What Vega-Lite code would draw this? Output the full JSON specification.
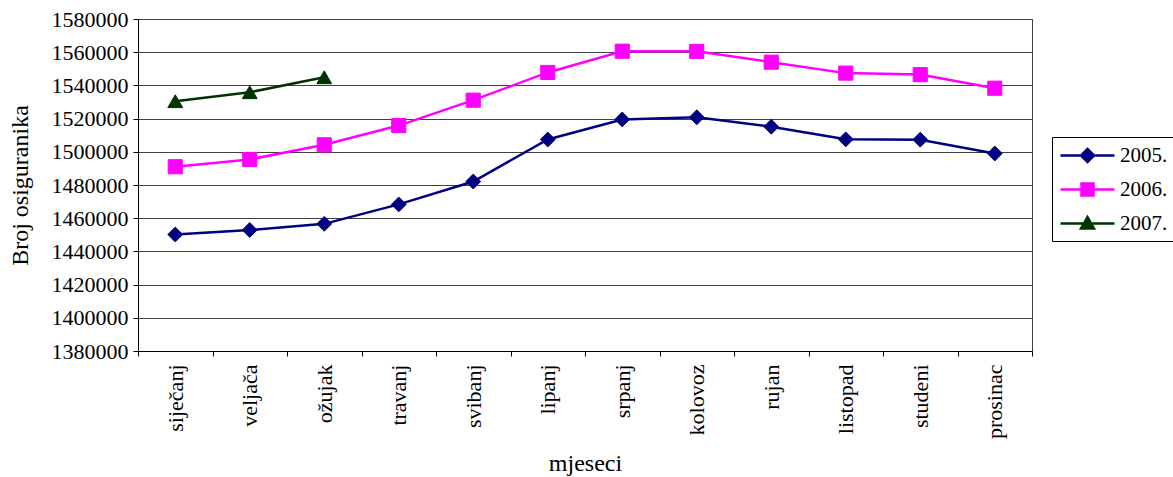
{
  "$schema": "https://vega.github.io/schema/vega-lite/v6.json",
  "width": 894,
  "height": 332,
  "autosize": "none",
  "padding": {"left": 138, "top": 19, "right": 141, "bottom": 126},
  "background": "white",
  "config": {
    "font": "Liberation Serif, Times New Roman, DejaVu Serif, serif",
    "view": {"stroke": "#404040", "strokeWidth": 1},
    "style": {
      "guide-label": {"font": "Liberation Serif, Times New Roman, DejaVu Serif, serif"},
      "guide-title": {"font": "Liberation Serif, Times New Roman, DejaVu Serif, serif"}
    },
    "axis": {
      "labelFont": "Liberation Serif, Times New Roman, DejaVu Serif, serif",
      "titleFont": "Liberation Serif, Times New Roman, DejaVu Serif, serif",
      "labelFontSize": 22,
      "titleFontSize": 24,
      "titleFontWeight": "normal",
      "labelColor": "black",
      "titleColor": "black",
      "domainColor": "black",
      "tickColor": "black",
      "tickSize": 5,
      "domainWidth": 1,
      "tickWidth": 1
    },
    "legend": {
      "labelFont": "Liberation Serif, Times New Roman, DejaVu Serif, serif"
    }
  },
  "data": {
    "values": [
      {"mjesec": "siječanj", "godina": "2005.", "broj": 1450200},
      {"mjesec": "veljača", "godina": "2005.", "broj": 1452900},
      {"mjesec": "ožujak", "godina": "2005.", "broj": 1456600},
      {"mjesec": "travanj", "godina": "2005.", "broj": 1468300},
      {"mjesec": "svibanj", "godina": "2005.", "broj": 1482100},
      {"mjesec": "lipanj", "godina": "2005.", "broj": 1507400},
      {"mjesec": "srpanj", "godina": "2005.", "broj": 1519500},
      {"mjesec": "kolovoz", "godina": "2005.", "broj": 1520800},
      {"mjesec": "rujan", "godina": "2005.", "broj": 1515100},
      {"mjesec": "listopad", "godina": "2005.", "broj": 1507500},
      {"mjesec": "studeni", "godina": "2005.", "broj": 1507300},
      {"mjesec": "prosinac", "godina": "2005.", "broj": 1499000},
      {"mjesec": "siječanj", "godina": "2006.", "broj": 1491000},
      {"mjesec": "veljača", "godina": "2006.", "broj": 1495400},
      {"mjesec": "ožujak", "godina": "2006.", "broj": 1504200},
      {"mjesec": "travanj", "godina": "2006.", "broj": 1515800},
      {"mjesec": "svibanj", "godina": "2006.", "broj": 1531100},
      {"mjesec": "lipanj", "godina": "2006.", "broj": 1547800},
      {"mjesec": "srpanj", "godina": "2006.", "broj": 1560600},
      {"mjesec": "kolovoz", "godina": "2006.", "broj": 1560500},
      {"mjesec": "rujan", "godina": "2006.", "broj": 1554000},
      {"mjesec": "listopad", "godina": "2006.", "broj": 1547400},
      {"mjesec": "studeni", "godina": "2006.", "broj": 1546500},
      {"mjesec": "prosinac", "godina": "2006.", "broj": 1538300},
      {"mjesec": "siječanj", "godina": "2007.", "broj": 1530500},
      {"mjesec": "veljača", "godina": "2007.", "broj": 1535900},
      {"mjesec": "ožujak", "godina": "2007.", "broj": 1544900}
    ]
  },
  "encoding": {
    "x": {
      "field": "mjesec",
      "type": "nominal",
      "bandPosition": 0.5,
      "sort": ["siječanj", "veljača", "ožujak", "travanj", "svibanj", "lipanj", "srpanj", "kolovoz", "rujan", "listopad", "studeni", "prosinac"],
      "scale": {"type": "band", "paddingInner": 0, "paddingOuter": 0},
      "axis": {
        "title": "mjeseci",
        "labelFont": "Liberation Serif",
        "titleFont": "Liberation Serif",
        "labelAngle": -90,
        "labelAlign": "right",
        "labelBaseline": "middle",
        "labelPadding": 8,
        "tickBand": "extent",
        "grid": false,
        "titleY": 112,
        "titleBaseline": "middle"
      }
    },
    "y": {
      "field": "broj",
      "type": "quantitative",
      "scale": {"domain": [1380000, 1580000], "zero": false, "nice": false},
      "axis": {
        "title": "Broj osiguranika",
        "labelFont": "Liberation Serif",
        "titleFont": "Liberation Serif",
        "values": [1380000, 1400000, 1420000, 1440000, 1460000, 1480000, 1500000, 1520000, 1540000, 1560000, 1580000],
        "format": "d",
        "labelPadding": 5,
        "grid": true,
        "gridColor": "#404040",
        "gridWidth": 1,
        "titleX": -118,
        "titleY": 166,
        "titleBaseline": "middle",
        "titleAngle": -90
      }
    },
    "color": {
      "field": "godina",
      "type": "nominal",
      "scale": {"domain": ["2005.", "2006.", "2007."], "range": ["#000080", "#FF00FF", "#003300"]},
      "legend": {
        "orient": "none",
        "legendX": 914,
        "legendY": 118,
        "title": null,
        "strokeColor": "black",
        "fillColor": "white",
        "padding": 7,
        "symbolSize": 400,
        "symbolOffset": 17,
        "labelOffset": 21,
        "rowPadding": 11,
        "labelFontSize": 21,
        "labelFont": "Liberation Serif",
        "labelColor": "black",
        "symbolStrokeWidth": 2.5,
        "symbolOpacity": 1,
        "symbolType": {"expr": "datum.value === '2005.' ? 'M-2.7,0H2.7M0,-0.65L0.65,0L0,0.65L-0.65,0Z' : datum.value === '2006.' ? 'M-2.7,0H2.7M-0.6,-0.6H0.6V0.6H-0.6Z' : 'M-2.7,0H2.7M0,-0.65L0.65,0.5H-0.65Z'"}
      }
    }
  },
  "layer": [
    {"mark": {"type": "line", "strokeWidth": 2.5}},
    {
      "transform": [{"filter": "datum.godina === '2005.'"}],
      "mark": {"type": "point", "shape": "diamond", "filled": true, "size": 220, "opacity": 1, "strokeWidth": 1},
      "encoding": {
        "stroke": {"field": "godina", "type": "nominal", "scale": {"domain": ["2005.", "2006.", "2007."], "range": ["#000080", "#FF00FF", "#003300"]}}
      }
    },
    {
      "transform": [{"filter": "datum.godina === '2006.'"}],
      "mark": {"type": "point", "shape": "square", "filled": true, "size": 200, "opacity": 1, "strokeWidth": 1},
      "encoding": {
        "stroke": {"field": "godina", "type": "nominal", "scale": {"domain": ["2005.", "2006.", "2007."], "range": ["#000080", "#FF00FF", "#003300"]}}
      }
    },
    {
      "transform": [{"filter": "datum.godina === '2007.'"}],
      "mark": {"type": "point", "shape": "triangle-up", "filled": true, "size": 220, "opacity": 1, "strokeWidth": 1},
      "encoding": {
        "stroke": {"field": "godina", "type": "nominal", "scale": {"domain": ["2005.", "2006.", "2007."], "range": ["#000080", "#FF00FF", "#003300"]}}
      }
    }
  ]
}
